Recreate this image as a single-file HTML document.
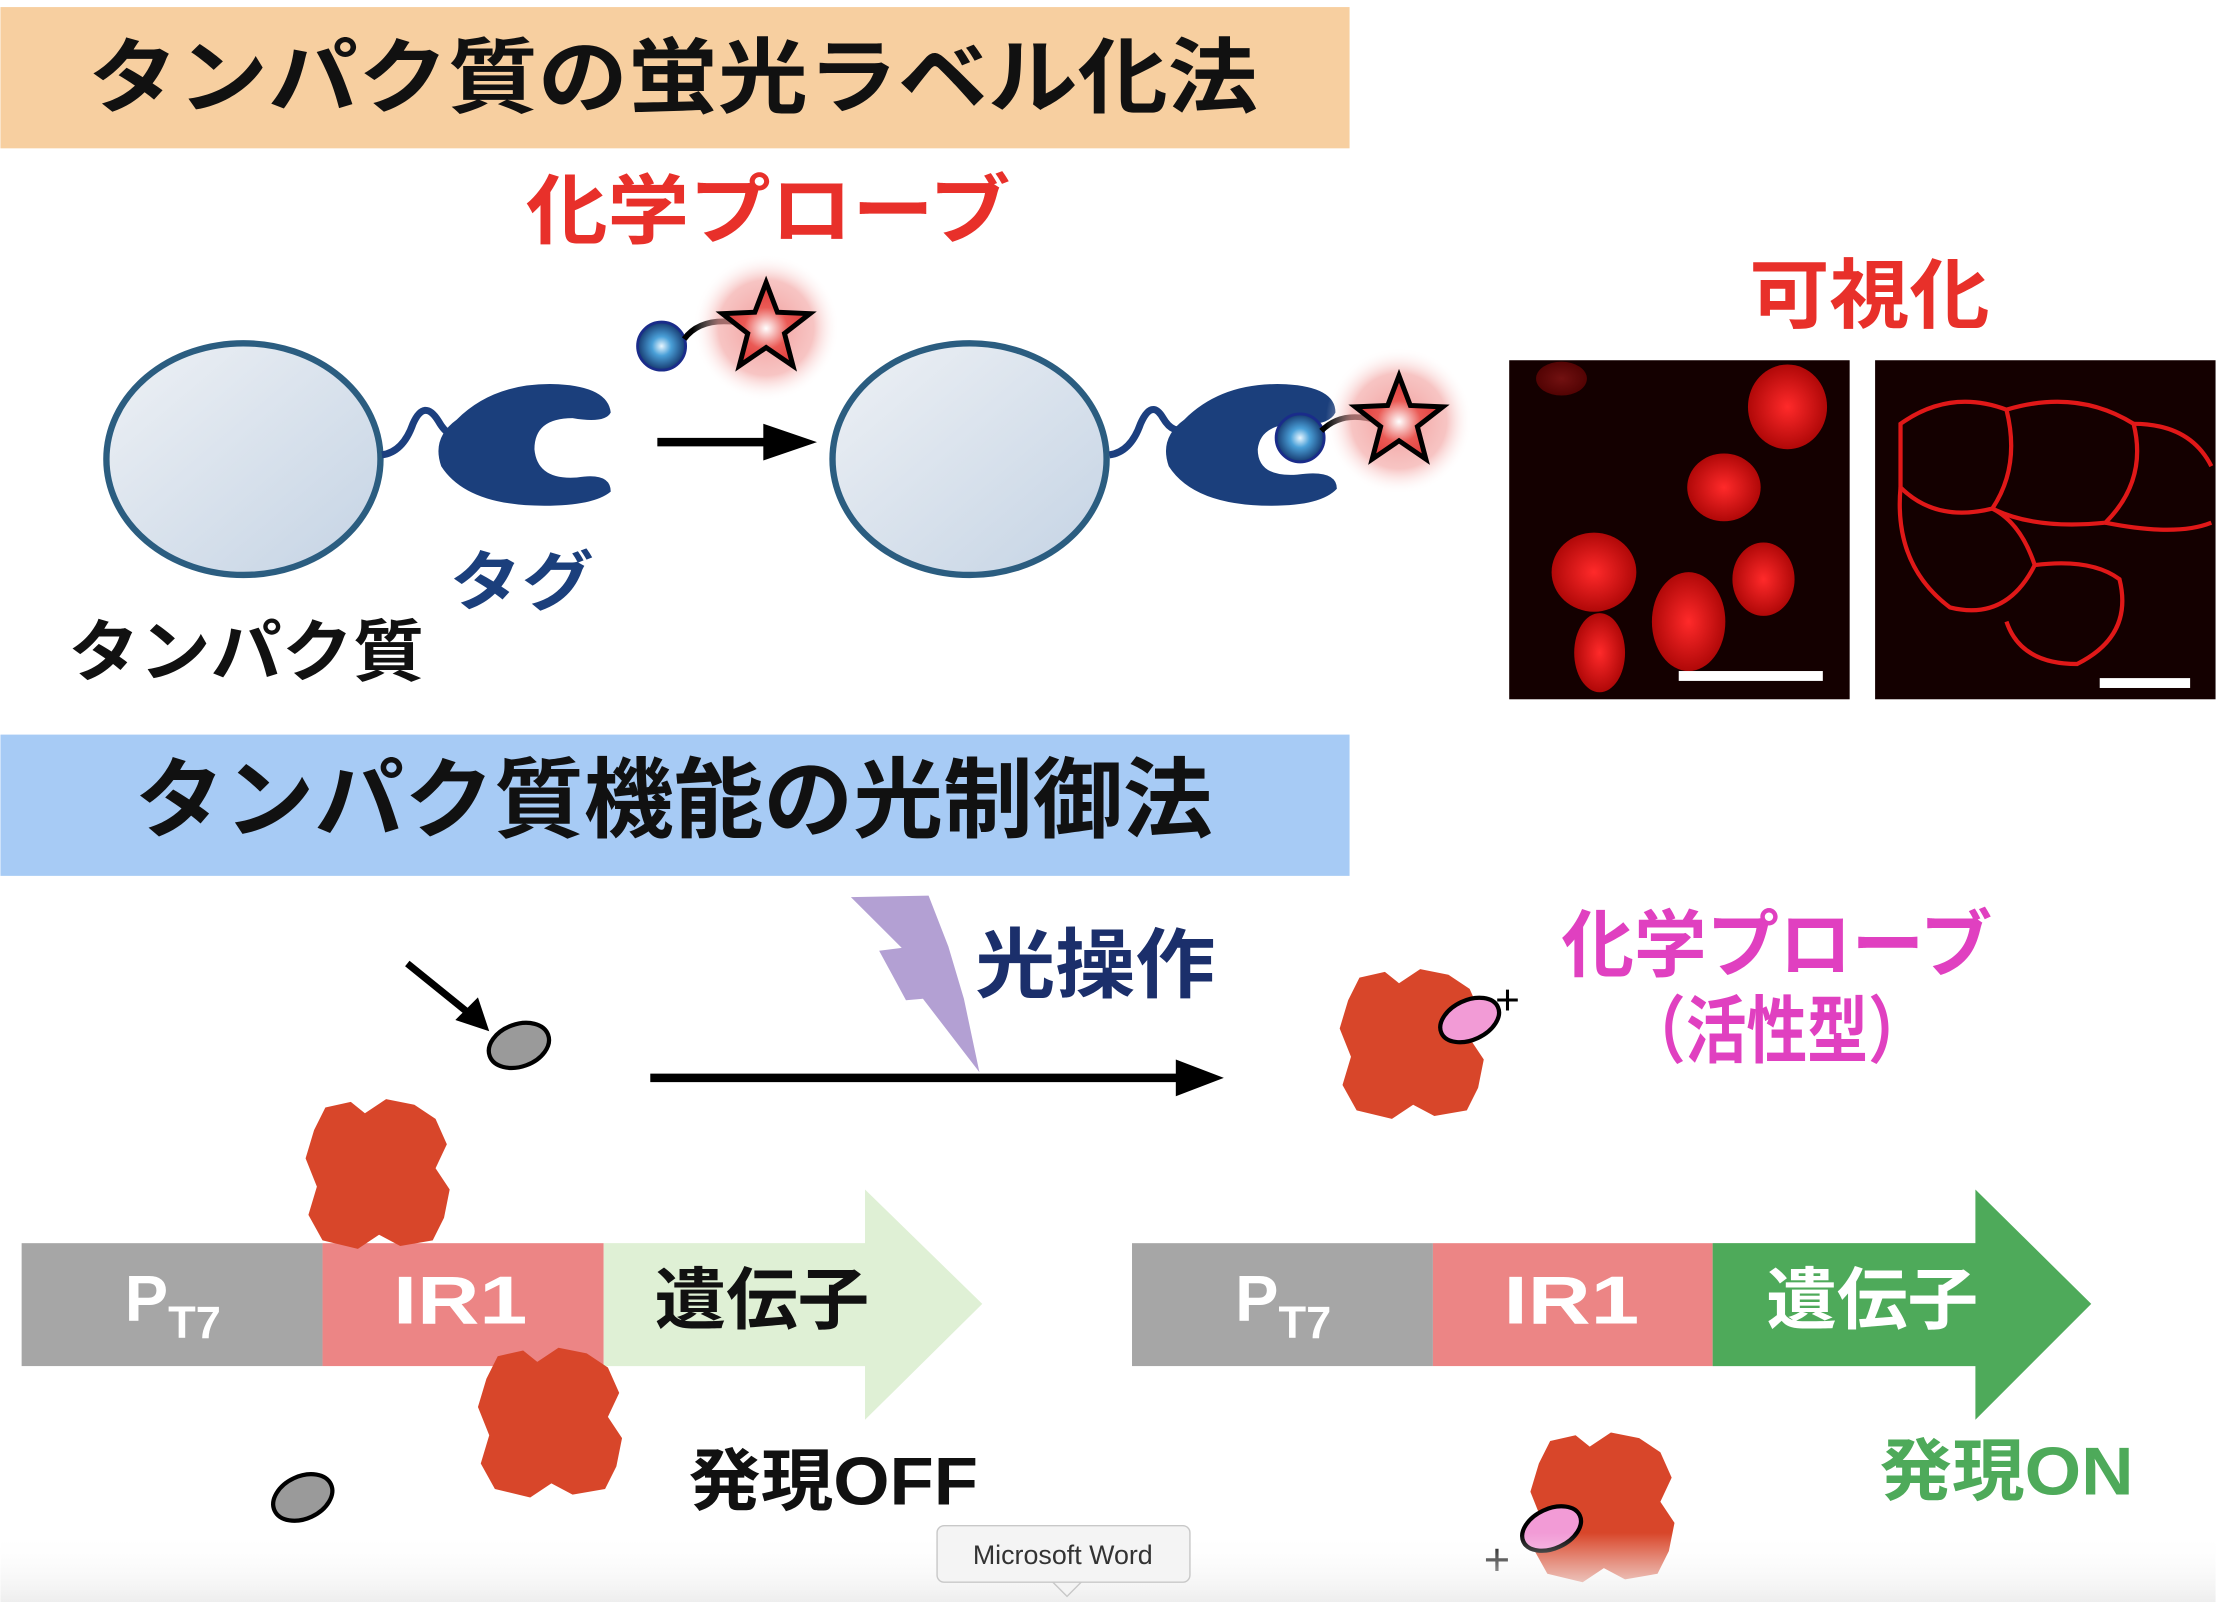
<!DOCTYPE html>
<html><head><meta charset="utf-8"><style>
html,body{margin:0;padding:0;background:#fff;}
svg{display:block;}
text{font-family:"Liberation Sans","Noto Sans CJK JP",sans-serif;font-weight:bold;}
</style></head><body>
<svg width="2216" height="1602" viewBox="0 0 1568 1134" xmlns="http://www.w3.org/2000/svg">
<defs>
<linearGradient id="cell" x1="0" y1="0" x2="1" y2="1"><stop offset="0" stop-color="#eef1f5"/><stop offset="1" stop-color="#c4d3e4"/></linearGradient>
<radialGradient id="ball" cx="0.5" cy="0.5" r="0.5"><stop offset="0" stop-color="#e8f6ff"/><stop offset="0.4" stop-color="#4aa0d8"/><stop offset="1" stop-color="#163a70"/></radialGradient>
<radialGradient id="star" cx="0.5" cy="0.55" r="0.5"><stop offset="0" stop-color="#fff"/><stop offset="0.5" stop-color="#ea5a55"/><stop offset="1" stop-color="#e03a3a"/></radialGradient>
<radialGradient id="glow" cx="0.5" cy="0.5" r="0.5"><stop offset="0" stop-color="#ef8a88" stop-opacity="0.85"/><stop offset="0.65" stop-color="#f3a5a3" stop-opacity="0.65"/><stop offset="1" stop-color="#fff" stop-opacity="0"/></radialGradient>
<radialGradient id="nuc" cx="0.5" cy="0.5" r="0.5"><stop offset="0" stop-color="#ff2a2a"/><stop offset="1" stop-color="#b00808"/></radialGradient>
<linearGradient id="shade" x1="0" y1="0" x2="0" y2="1"><stop offset="0" stop-color="#fff" stop-opacity="0"/><stop offset="1" stop-color="#eee"/></linearGradient>
<g id="starg"><circle r="52" fill="url(#glow)"/><polygon points="0,-32 8,-11 31,-10 13,4 19,27 0,14 -19,27 -13,4 -31,-10 -8,-11" fill="url(#star)" stroke="#000" stroke-width="3.5" stroke-linejoin="miter"/></g>
<g id="prot" fill="#d8462a"><path d="M-38,-48 L-20,-52 -10,-44 5,-54 25,-50 40,-40 48,-22 40,-5 50,10 46,30 38,46 15,50 0,42 -15,52 -40,46 -50,28 -44,8 -52,-12 -46,-32Z"/></g>
</defs>
<rect x="0" y="5" width="955" height="100" fill="#f7cfa0"/>
<text x="62" y="75" font-size="58" fill="#111" textLength="828" lengthAdjust="spacingAndGlyphs">タンパク質の蛍光ラベル化法</text>
<text x="372" y="168" font-size="54" fill="#e8302a" textLength="343" lengthAdjust="spacingAndGlyphs">化学プローブ</text>
<ellipse cx="172" cy="325" rx="97" ry="82" fill="url(#cell)" stroke="#2b5d80" stroke-width="4.5"/>
<path d="M270,322 Q285,320 292,300 Q300,282 310,298 Q318,312 325,305" fill="none" stroke="#1c3f7f" stroke-width="5"/>
<path d="M323,297 Q350,270 395,272 Q430,274 432,292 Q428,300 405,296 Q378,296 378,318 Q380,340 408,338 Q432,334 432,348 Q420,358 385,358 Q330,358 312,330 Q305,310 323,297Z" fill="#1b3f7c"/>
<text x="318" y="428" font-size="46" fill="#1b3f7c" textLength="102" lengthAdjust="spacingAndGlyphs">タグ</text>
<text x="48" y="478" font-size="48" fill="#111" textLength="252" lengthAdjust="spacingAndGlyphs">タンパク質</text>
<circle cx="468" cy="245" r="17" fill="url(#ball)" stroke="#1a2c8a" stroke-width="2"/>
<path d="M484,240 Q495,225 520,228" fill="none" stroke="#000" stroke-width="4"/>
<use href="#starg" x="542" y="232"/>
<line x1="465" y1="313" x2="545" y2="313" stroke="#000" stroke-width="6"/>
<polygon points="540,300 578,313 540,326" fill="#000"/>
<ellipse cx="686" cy="325" rx="97" ry="82" fill="url(#cell)" stroke="#2b5d80" stroke-width="4.5"/>
<path d="M785,322 Q800,320 807,300 Q815,282 823,296 Q830,308 840,303" fill="none" stroke="#1c3f7f" stroke-width="5"/>
<path d="M838,297 Q865,270 910,272 Q945,274 945,292 Q940,302 918,300 Q892,300 890,318 Q890,338 918,336 Q946,332 946,346 Q935,358 900,358 Q845,358 827,330 Q820,310 838,297Z" fill="#1b3f7c"/>
<circle cx="920" cy="310" r="17" fill="url(#ball)" stroke="#1a2c8a" stroke-width="2"/>
<path d="M935,305 Q950,290 975,298" fill="none" stroke="#000" stroke-width="4"/>
<use href="#starg" x="990" y="298"/>
<text x="1238" y="228" font-size="54" fill="#e8302a" textLength="170" lengthAdjust="spacingAndGlyphs">可視化</text>
<rect x="1068" y="255" width="241" height="240" fill="#140000"/>
<g fill="url(#nuc)">
<ellipse cx="1265" cy="288" rx="28" ry="30"/><ellipse cx="1220" cy="345" rx="26" ry="24"/>
<ellipse cx="1128" cy="405" rx="30" ry="28"/><ellipse cx="1195" cy="440" rx="26" ry="35"/>
<ellipse cx="1248" cy="410" rx="22" ry="26"/><ellipse cx="1132" cy="462" rx="18" ry="28"/>
<ellipse cx="1105" cy="268" rx="18" ry="12" opacity="0.4"/>
</g>
<rect x="1188" y="475" width="102" height="7" fill="#fff"/>
<rect x="1327" y="255" width="241" height="240" fill="#140000"/>
<g fill="none" stroke="#e01818" stroke-width="3">
<path d="M1345,300 Q1380,275 1420,290 Q1430,330 1410,360 Q1370,370 1345,345Z"/>
<path d="M1420,290 Q1470,275 1510,300 Q1520,340 1490,370 Q1440,375 1410,360"/>
<path d="M1345,345 Q1340,400 1380,430 Q1420,440 1440,400 Q1430,370 1410,360"/>
<path d="M1440,400 Q1480,395 1500,410 Q1510,450 1470,470 Q1430,470 1420,440"/>
<path d="M1510,300 Q1550,300 1565,330 M1490,370 Q1540,380 1565,370"/>
</g>
<rect x="1486" y="480" width="64" height="7" fill="#fff"/>
<rect x="0" y="520" width="955" height="100" fill="#a7cbf5"/>
<text x="95" y="588" font-size="62" fill="#111" textLength="763" lengthAdjust="spacingAndGlyphs">タンパク質機能の光制御法</text>
<line x1="288" y1="682" x2="330" y2="716" stroke="#000" stroke-width="5"/>
<polygon points="322,722 346,730 338,706" fill="#000"/>
<ellipse cx="367" cy="740" rx="22" ry="15" transform="rotate(-20 367 740)" fill="#9a9a9a" stroke="#000" stroke-width="3"/>
<polygon points="602,635 657,634 671,670 682,707 693,759 653,707 641,708 622,673 638,671" fill="#b3a0d3"/>
<text x="690" y="702" font-size="54" fill="#1b2f6b" textLength="170" lengthAdjust="spacingAndGlyphs">光操作</text>
<line x1="460" y1="763" x2="835" y2="763" stroke="#000" stroke-width="6"/>
<polygon points="832,750 866,763 832,776" fill="#000"/>
<text x="1105" y="687" font-size="52" fill="#e040c0" textLength="305" lengthAdjust="spacingAndGlyphs">化学プローブ</text>
<text x="1150" y="748" font-size="52" fill="#e040c0" textLength="215" lengthAdjust="spacingAndGlyphs">（活性型）</text>
<use href="#prot" x="1000" y="740"/>
<ellipse cx="1040" cy="722" rx="22" ry="14" transform="rotate(-25 1040 722)" fill="#f29bd6" stroke="#000" stroke-width="3"/>
<text x="1058" y="718" font-size="30" fill="#000" style="font-weight:normal">+</text>
<rect x="15" y="880" width="213" height="87" fill="#a6a6a6"/>
<rect x="228" y="880" width="199" height="87" fill="#ec8585"/>
<polygon points="427,880 612,880 612,842 695,923 612,1005 612,967 427,967" fill="#dff0d5"/>
<text x="88" y="935" font-size="46" fill="#fff">P<tspan font-size="32" dy="12">T7</tspan></text>
<text x="278" y="937" font-size="48" fill="#fff" textLength="95" lengthAdjust="spacingAndGlyphs">IR1</text>
<text x="463" y="937" font-size="48" fill="#111" textLength="152" lengthAdjust="spacingAndGlyphs">遺伝子</text>
<use href="#prot" x="268" y="832"/>
<use href="#prot" x="390" y="1008"/>
<ellipse cx="214" cy="1060" rx="22" ry="15" transform="rotate(-25 214 1060)" fill="#9a9a9a" stroke="#000" stroke-width="3"/>
<text x="487" y="1065" font-size="48" fill="#111" textLength="205" lengthAdjust="spacingAndGlyphs">発現OFF</text>
<rect x="801" y="880" width="213" height="87" fill="#a6a6a6"/>
<rect x="1014" y="880" width="198" height="87" fill="#ec8585"/>
<polygon points="1212,880 1398,880 1398,842 1480,923 1398,1005 1398,967 1212,967" fill="#4eaa5a"/>
<text x="874" y="935" font-size="46" fill="#fff">P<tspan font-size="32" dy="12">T7</tspan></text>
<text x="1064" y="937" font-size="48" fill="#fff" textLength="96" lengthAdjust="spacingAndGlyphs">IR1</text>
<text x="1250" y="937" font-size="48" fill="#fff" textLength="150" lengthAdjust="spacingAndGlyphs">遺伝子</text>
<use href="#prot" x="1135" y="1068"/>
<ellipse cx="1098" cy="1082" rx="22" ry="14" transform="rotate(-25 1098 1082)" fill="#f29bd6" stroke="#000" stroke-width="3"/>
<text x="1050" y="1115" font-size="32" fill="#000" style="font-weight:normal">+</text>
<text x="1330" y="1058" font-size="48" fill="#4eaa5a" textLength="180" lengthAdjust="spacingAndGlyphs">発現ON</text>
<rect x="0" y="1085" width="1568" height="49" fill="url(#shade)"/>
<rect x="663" y="1080" width="179" height="40" rx="5" fill="#f4f4f4" stroke="#c8c8c8"/>
<polygon points="745,1120 755,1130 765,1120" fill="#f4f4f4" stroke="#c8c8c8"/>
<text x="752" y="1107" font-size="19" fill="#333" style="font-weight:normal" text-anchor="middle">Microsoft Word</text>
</svg>
</body></html>
